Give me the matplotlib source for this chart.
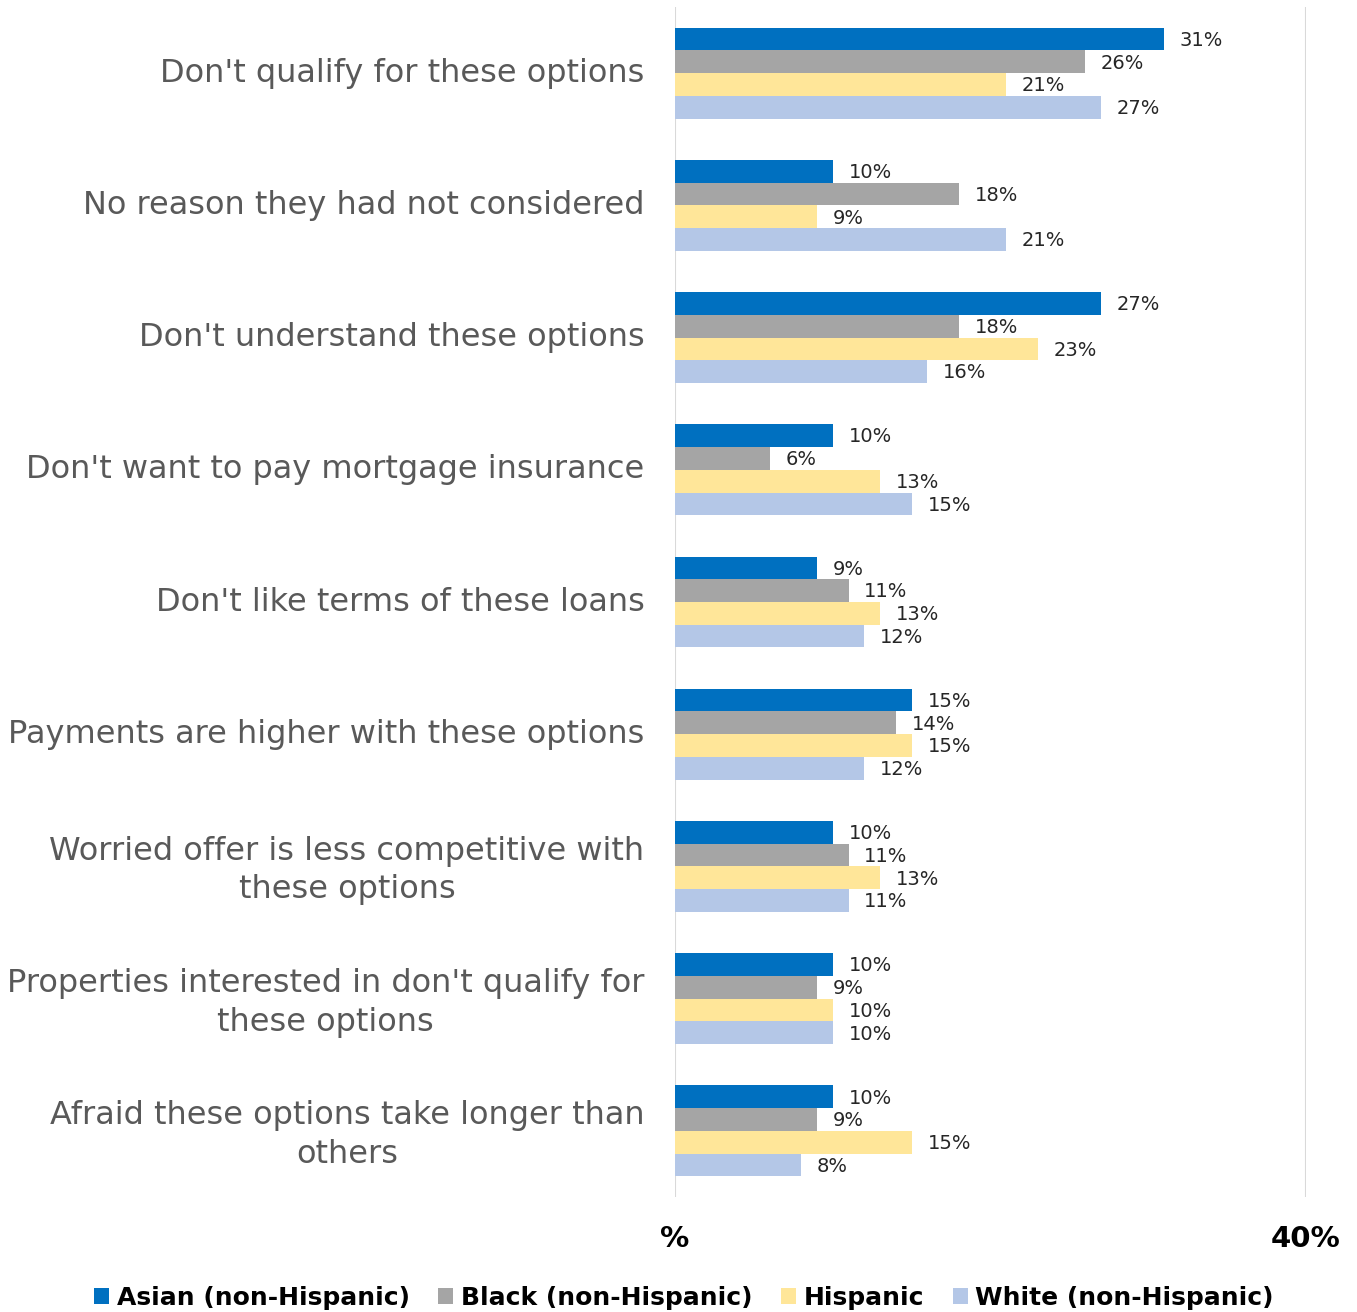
import matplotlib
matplotlib.use("Agg")
import matplotlib.pyplot as plt
import numpy as np

categories = [
    "Don't qualify for these options",
    "No reason they had not considered",
    "Don't understand these options",
    "Don't want to pay mortgage insurance",
    "Don't like terms of these loans",
    "Payments are higher with these options",
    "Worried offer is less competitive with\nthese options",
    "Properties interested in don't qualify for\nthese options",
    "Afraid these options take longer than\nothers",
]
series_names = ["Asian (non-Hispanic)", "Black (non-Hispanic)", "Hispanic", "White (non-Hispanic)"]
asian = [31, 10, 27, 10, 9, 15, 10, 10, 10]
black = [26, 18, 18, 6, 11, 14, 11, 9, 9]
hispanic = [21, 9, 23, 13, 13, 15, 13, 10, 15]
white = [27, 21, 16, 15, 12, 12, 11, 10, 8]
tick_values = [0, 40]
tick_labels = ["%", "40%"]

colors = ["#0070C0", "#A5A5A5", "#FFE699", "#B4C7E7"]
series = [asian, black, hispanic, white]

plt.rcParams['font.family'] = ['DejaVu Sans']

fig = plt.figure(figsize=(13.57, 13.12), dpi=100)
ax = fig.add_axes([675/1357, 1-1197/1312, (1306-675)/1357, (1197-7)/1312])

n = len(categories)
bh = 0.172
y0 = np.arange(n)
for i, (vals, col, name) in enumerate(zip(series, colors, series_names)):
    ys = y0 + (i - 1.5) * bh
    ax.barh(ys, vals, height=bh, color=col, label=name, edgecolor='none')
    for y, v in zip(ys, vals):
        ax.text(v + 1.0, y + 0.01, f"{v}%", va='center', ha='left', fontsize=14, color='#262626')

ax.set_ylim(n - 0.5, -0.5)
ax.set_xlim(0, 40)
ax.set_yticks(y0 - 0.025)
ax.set_yticklabels(categories, fontsize=23, color='#595959', linespacing=1.32,
                   ha='right', multialignment='center')
ax.tick_params(axis='y', length=0, pad=22)
ax.set_xticks(tick_values)
ax.set_xticklabels(tick_labels, fontsize=21, fontweight='bold', color='black')
ax.tick_params(axis='x', length=0, pad=20)
ax.grid(axis='x', color='#D9D9D9', linewidth=1.5)
ax.set_axisbelow(True)
for s in ax.spines.values():
    s.set_visible(False)

leg = fig.legend(loc='center', bbox_to_anchor=(684/1357, 1-1298/1312), ncol=4, frameon=False,
                 prop={'size': 18, 'weight': 'bold'}, handlelength=0.6, handleheight=0.6,
                 handletextpad=0.3, columnspacing=1.15)

fig.savefig("out.png", dpi=100)
